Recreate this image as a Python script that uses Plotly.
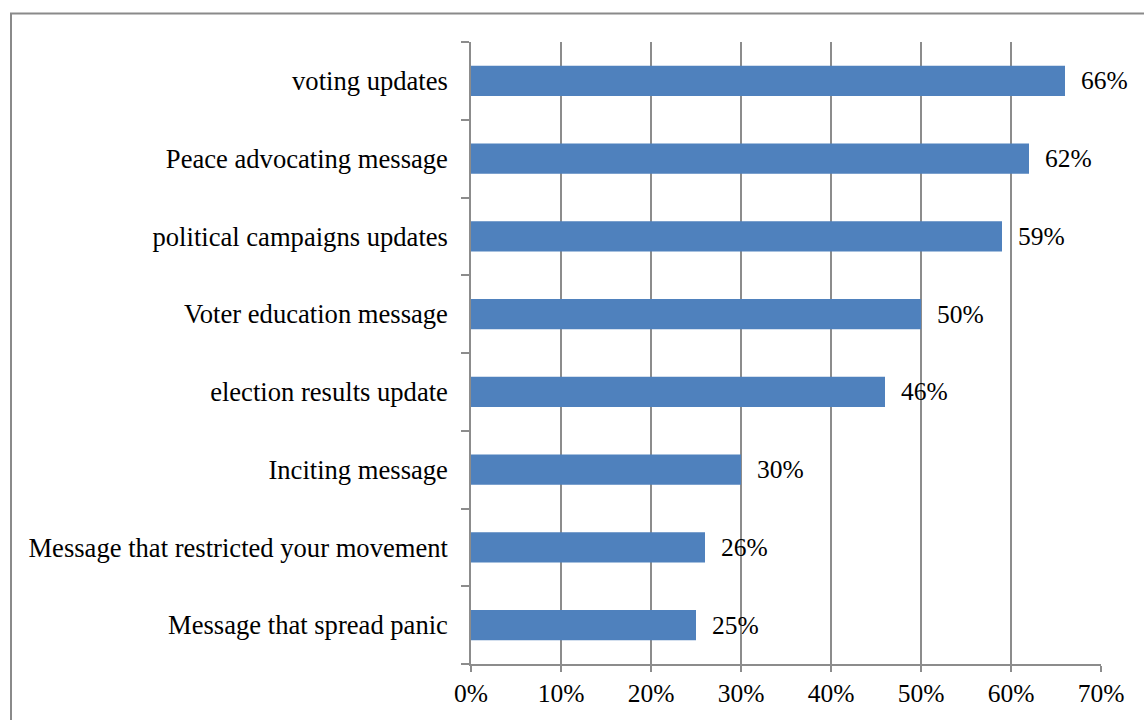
import plotly.graph_objects as go

categories = [
    "voting updates",
    "Peace advocating message",
    "political campaigns updates",
    "Voter education message",
    "election results update",
    "Inciting message",
    "Message that restricted your movement",
    "Message that spread panic",
]
values = [0.66, 0.62, 0.59, 0.50, 0.46, 0.30, 0.26, 0.25]
tick_vals = [0, 0.1, 0.2, 0.3, 0.4, 0.5, 0.6, 0.7]
tick_text = ["0%", "10%", "20%", "30%", "40%", "50%", "60%", "70%"]

FONT = "Liberation Serif, Times New Roman, serif"
GRID = "#8c8c8c"
BAR = "#4f81bd"

W, H = 1144, 720
ML, MR, MT, MB = 471, 43, 42, 54
pw, ph = W - ML - MR, H - MT - MB

fig = go.Figure()
fig.add_trace(go.Bar(
    x=values, y=categories, orientation="h",
    marker=dict(color=BAR, line=dict(width=0)),
    width=0.39,
    hoverinfo="skip",
))

# value labels to the right of each bar
for c, v in zip(categories, values):
    fig.add_annotation(
        x=v, y=c, text=f"{round(v * 100)}%", showarrow=False,
        xanchor="left", yanchor="middle", xshift=14,
        font=dict(family=FONT, size=25.5, color="black"),
    )

# chart frame (top and left edges)
def px_to_paper_x(px):
    return (px - ML) / pw

def px_to_paper_y(py):
    return (H - MB - py) / ph

fig.add_shape(
    type="path", xref="paper", yref="paper",
    path=(f"M {px_to_paper_x(11)} {px_to_paper_y(760)} "
          f"L {px_to_paper_x(11)} {px_to_paper_y(13.5)} "
          f"L {px_to_paper_x(1150)} {px_to_paper_y(13.5)}"),
    line=dict(color="#8a8a8a", width=2),
)

fig.update_layout(
    width=W, height=H,
    margin=dict(l=ML, r=MR, t=MT, b=MB, pad=0),
    paper_bgcolor="white", plot_bgcolor="white",
    showlegend=False,
    font=dict(family=FONT, size=25.5, color="black"),
    xaxis=dict(
        range=[0, 0.7], tickvals=tick_vals, ticktext=tick_text,
        showgrid=True, gridcolor=GRID, gridwidth=1.5,
        showline=True, linecolor=GRID, linewidth=1.5,
        ticks="outside", ticklen=6, tickcolor=GRID, tickwidth=1.5,
        zeroline=False, fixedrange=True,
        tickfont=dict(family=FONT, size=25.5, color="black"),
    ),
    yaxis=dict(
        categoryorder="array", categoryarray=categories[::-1],
        showgrid=False, showline=True, linecolor=GRID, linewidth=1.5,
        ticks="outside", ticklen=8, tickcolor=GRID, tickwidth=1.5,
        tickson="boundaries", ticklabelstandoff=16,
        zeroline=False, fixedrange=True,
        tickfont=dict(family=FONT, size=26.6, color="black"),
    ),
)

fig.write_html("out.html")
